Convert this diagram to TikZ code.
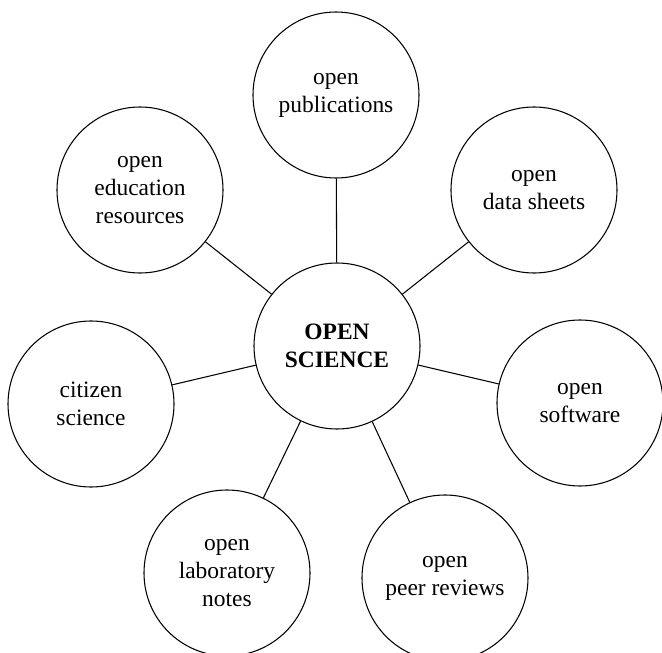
\documentclass[tikz,border=0pt]{standalone}
\usepackage{fontspec}
\setmainfont{Liberation Serif}
\begin{document}
\begin{tikzpicture}[x=0.75pt,y=0.75pt,yscale=-1,xscale=1,
	topic/.style={draw, circle, line width=0.8pt, minimum size=124.5pt, inner sep=0pt, align=center, font=\fontsize{17.6}{21}\selectfont},
	link/.style={line width=0.8pt}]
	\useasboundingbox (0,0) rectangle (662,653); %diagram is 662 wide, 653 high

	\node [topic, font=\bfseries\fontsize{17.6}{21}\selectfont] (sci) at (337,346) {OPEN\\SCIENCE};
	\node [topic] (pub) at (336,95) {open\\publications};
	\node [topic] (data) at (534,190) {open\\data sheets};
	\node [topic] (soft) at (580,403) {open\\software};
	\node [topic] (peer) at (445,578) {open\\peer reviews};
	\node [topic] (lab) at (227,573) {open\\laboratory\\notes};
	\node [topic] (cit) at (91,404) {citizen\\science};
	\node [topic] (edu) at (140,190) {open\\education\\resources};

	\draw [link] (sci) -- (pub);
	\draw [link] (sci) -- (data);
	\draw [link] (sci) -- (soft);
	\draw [link] (sci) -- (peer);
	\draw [link] (sci) -- (lab);
	\draw [link] (sci) -- (cit);
	\draw [link] (sci) -- (edu);
\end{tikzpicture}
\end{document}
